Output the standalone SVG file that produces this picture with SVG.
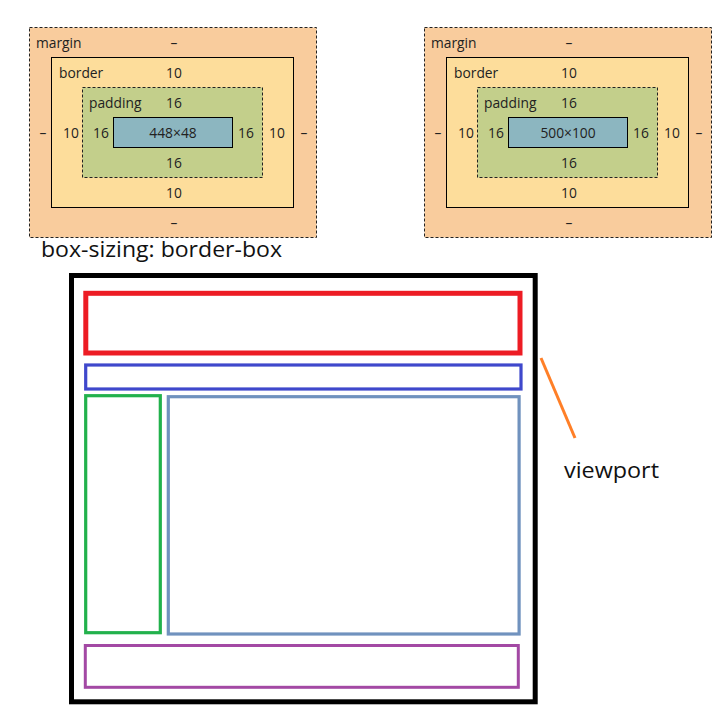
<svg xmlns="http://www.w3.org/2000/svg" width="728" height="711" viewBox="0 0 728 711">
<style>
text{font-family:"Open Sans","Noto Sans","Liberation Sans",sans-serif;fill:#222;}
.s{font-size:13.8px;}
.c{text-anchor:middle;}
.m{fill:#f9cc9d;stroke:#222;stroke-width:1;stroke-dasharray:3 2;}
.b{fill:#fddd9b;stroke:#000;stroke-width:1;}
.p{fill:#c3cf8b;stroke:#222;stroke-width:1;stroke-dasharray:3 2;}
.ct{fill:#8cb6c0;stroke:#000;stroke-width:1;}
.lay{fill:none;}
</style>
<rect width="728" height="711" fill="#fff"/>
<g id="boxmodel-left">
<rect class="m" x="29.5" y="27.5" width="287" height="210"/>
<rect class="b" x="51.5" y="57.5" width="242" height="150"/>
<rect class="p" x="82.5" y="87.5" width="180" height="90"/>
<rect class="ct" x="113.5" y="117.5" width="119" height="30"/>
<text class="s" x="36" y="48">margin</text>
<text class="s c" x="174" y="48">–</text>
<text class="s" x="59" y="78">border</text>
<text class="s c" x="174" y="78">10</text>
<text class="s" x="89" y="108">padding</text>
<text class="s c" x="174" y="108">16</text>
<text class="s c" x="173" y="138">448×48</text>
<text class="s c" x="43" y="138">–</text>
<text class="s c" x="71" y="138">10</text>
<text class="s c" x="101" y="138">16</text>
<text class="s c" x="246" y="138">16</text>
<text class="s c" x="277" y="138">10</text>
<text class="s c" x="304" y="138">–</text>
<text class="s c" x="174" y="168">16</text>
<text class="s c" x="174" y="198">10</text>
<text class="s c" x="174" y="228">–</text>
</g>
<g id="boxmodel-right">
<rect class="m" x="424.5" y="27.5" width="287" height="210"/>
<rect class="b" x="446.5" y="57.5" width="242" height="150"/>
<rect class="p" x="477.5" y="87.5" width="180" height="90"/>
<rect class="ct" x="508.5" y="117.5" width="119" height="30"/>
<text class="s" x="431" y="48">margin</text>
<text class="s c" x="569" y="48">–</text>
<text class="s" x="454" y="78">border</text>
<text class="s c" x="569" y="78">10</text>
<text class="s" x="484" y="108">padding</text>
<text class="s c" x="569" y="108">16</text>
<text class="s c" x="568" y="138">500×100</text>
<text class="s c" x="438" y="138">–</text>
<text class="s c" x="466" y="138">10</text>
<text class="s c" x="496" y="138">16</text>
<text class="s c" x="641" y="138">16</text>
<text class="s c" x="672" y="138">10</text>
<text class="s c" x="699" y="138">–</text>
<text class="s c" x="569" y="168">16</text>
<text class="s c" x="569" y="198">10</text>
<text class="s c" x="569" y="228">–</text>
</g>
<text id="caption" x="41" y="257" style="font-size:22px;fill:#111" textLength="241" lengthAdjust="spacingAndGlyphs">box-sizing: border-box</text>
<g id="viewport">
<rect class="lay" x="71.5" y="275.5" width="463.7" height="426.3" stroke="#000" stroke-width="5"/>
</g>
<g id="header"><rect class="lay" x="85.8" y="293.3" width="434.2" height="59.7" stroke="#ed1c24" stroke-width="5"/></g>
<g id="nav"><rect class="lay" x="85.7" y="365" width="435.3" height="24" stroke="#3f48cc" stroke-width="3.2"/></g>
<g id="sidebar"><rect class="lay" x="85.7" y="395.7" width="74.6" height="237" stroke="#22b14c" stroke-width="3.2"/></g>
<g id="main"><rect class="lay" x="168.3" y="396.7" width="350.8" height="237.3" stroke="#7092be" stroke-width="3.2"/></g>
<g id="footer"><rect class="lay" x="85.3" y="645.5" width="433" height="41.8" stroke="#a349a4" stroke-width="3"/></g>
<g id="connectors">
<line x1="541" y1="358" x2="575" y2="438" stroke="#ff7f27" stroke-width="3"/>
</g>
<text id="viewport-label" x="564" y="478" style="font-size:22px;fill:#111" textLength="95" lengthAdjust="spacingAndGlyphs">viewport</text>
</svg>
